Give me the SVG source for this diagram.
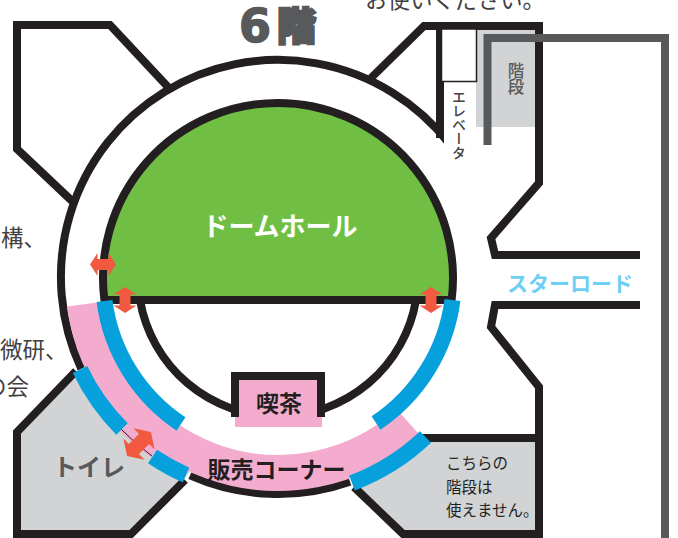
<svg xmlns="http://www.w3.org/2000/svg" width="678" height="538" viewBox="0 0 678 538">
<style>
text{font-family:"Noto Sans CJK JP","Noto Sans",sans-serif}
.w{fill:none;stroke:#231f20;stroke-width:8;stroke-linejoin:miter}
.bl{fill:none;stroke:#06a0dc;stroke-width:16}
.lb{font-weight:700;text-anchor:middle}
.note{font-size:22.500px;fill:#414042}
.sm{font-size:15.500px;fill:#231f20}
.ar{fill:#f15a40}
</style>
<defs><path id="arrow" d="M-13,0L-5.500,-11.500V-5.500H5.500V-11.500L13,0L5.500,11.500V5.500H-5.500V11.500Z"/></defs>
<rect width="678" height="538" fill="#fff"/>
<g id="notes">
<text class="note" x="365" y="8">お使いください。</text>
<text class="note" x="1" y="246">構、</text>
<text class="note" x="0" y="358">微研、</text>
<text class="note" x="-16" y="395">の会</text>
</g>
<g id="title">
<text x="239" y="42" font-size="46" fill="#58595b" stroke="#58595b" stroke-width="1.500" style="font-family:'DejaVu Sans',sans-serif;font-weight:700">6</text>
<text x="277" y="40" font-size="39" fill="#58595b" stroke="#58595b" stroke-width="2.500" style="font-weight:900">階</text>
</g>
<g id="toilet">
<path d="M85,370L75,372L17,432V534H131L183,481L190,471A213,213 0 0 1 85,370Z" fill="#d1d3d4" stroke="none"/>
<path class="w" d="M76,371L17,432V534H131L185,480"/>
<text class="lb" x="89" y="476" font-size="24" fill="#58595b">トイレ</text>
</g>
<g id="closed-stairs">
<path d="M355,488L403,534H539V438H425A218,218 0 0 1 355,488Z" fill="#d1d3d4"/>
<path class="w" d="M354,487L403,534H539V387L491,327L495,305H640M423,438H539"/>
<text class="sm" x="446" y="469">こちらの</text>
<text class="sm" x="446" y="493">階段は</text>
<text class="sm" x="446" y="516">使えません。</text>
</g>
<g id="stairs">
<rect x="476" y="29" width="60" height="98" fill="#d1d3d4"/>
<text x="516" y="62" font-size="16.500" fill="#58595b" font-weight="500" style="writing-mode:vertical-rl" dominant-baseline="central">階段</text>
</g>
<g id="walls">
<path class="w" d="M72,201L17,149V25H110L168,87"/>
<path class="w" d="M371,78L424,26H539V183L491,238L495,255H640"/>
<path class="w" d="M81.300,368.700A217,217 0 0 1 449,143.400"/>
<rect x="444" y="122" width="12" height="30" fill="#fff"/>
<path class="w" d="M440,26V138"/>
<rect x="441.500" y="29" width="35" height="52.500" fill="#fff" stroke="#231f20" stroke-width="1.500"/>
<path class="w" d="M190,475.300A217,217 0 0 0 350,481.700"/>
<text x="459" y="90" font-size="14" font-weight="500" fill="#414042" style="writing-mode:vertical-rl" dominant-baseline="central">エレベータ</text>
</g>
<g id="dome-hall">
<path d="M104.400,300A175,175 0 1 1 451.600,300Z" fill="#70bf44" stroke="#231f20" stroke-width="8"/>
<text class="lb" x="280" y="236" font-size="26" fill="#fff">ドームホール</text>
</g>
<g id="inner-wall"><path class="w" d="M140,300A140,140 0 0 0 416,300"/></g>
<g id="sales-corner">
<path d="M84.800,304.100A195,195 0 0 0 408.700,422.700" fill="none" stroke="#f4acce" stroke-width="36"/>
<path d="M122.600,428.500A216.300,216.300 0 0 0 153,454.500" fill="none" stroke="#f4acce" stroke-width="7"/>
<text class="lb" x="276.500" y="478" font-size="23" fill="#231f20">販売コーナー</text>
</g>
<g id="cafe">
<rect x="235" y="380" width="87" height="47" fill="#f4acce"/>
<path class="w" d="M235,417V376H321V417"/>
<text class="lb" x="279" y="412" font-size="23" fill="#231f20">喫茶</text>
</g>
<g id="star-road"><text class="lb" x="570" y="291" font-size="21" fill="#6dcff6">スターロード</text></g>
<g id="connectors">
<path class="bl" d="M104.500,301A175,175 0 0 0 181,424"/>
<path class="bl" d="M452.500,300A175,175 0 0 1 376,423"/>
<path class="bl" d="M80,369.500A218,218 0 0 0 122,429"/>
<path class="bl" d="M152.500,456.500A218,218 0 0 0 186,475"/>
<path class="bl" d="M352,483A218,218 0 0 0 425.500,437"/>
<path d="M121.500,429.500A218,218 0 0 0 152,456" stroke="#231f20" stroke-width="1" fill="none"/>
<use href="#arrow" class="ar" x="103" y="264.500"/>
<use href="#arrow" class="ar" transform="translate(125,300) rotate(90)"/>
<use href="#arrow" class="ar" transform="translate(431,300) rotate(90)"/>
<use href="#arrow" class="ar" transform="translate(139,444) rotate(135) scale(1.300)"/>
</g>
<path d="M487.500,145V38H665V538" fill="none" stroke="#58595b" stroke-width="8"/>
</svg>
